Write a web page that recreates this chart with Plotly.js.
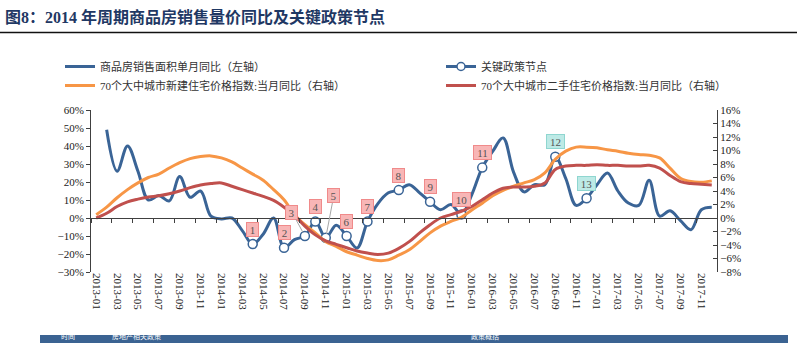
<!DOCTYPE html>
<html><head><meta charset="utf-8">
<script src="https://cdn.plot.ly/plotly-3.0.1.min.js"></script>
<style>html,body{margin:0;padding:0;background:#fff}#chart{width:797px;height:343px}</style>
</head><body><div id="chart"></div>
<script>
// ---- data ----
const months = ['2013-01','2013-02','2013-03','2013-04','2013-05','2013-06','2013-07','2013-08','2013-09','2013-10','2013-11','2013-12',
'2014-01','2014-02','2014-03','2014-04','2014-05','2014-06','2014-07','2014-08','2014-09','2014-10','2014-11','2014-12',
'2015-01','2015-02','2015-03','2015-04','2015-05','2015-06','2015-07','2015-08','2015-09','2015-10','2015-11','2015-12',
'2016-01','2016-02','2016-03','2016-04','2016-05','2016-06','2016-07','2016-08','2016-09','2016-10','2016-11','2016-12',
'2017-01','2017-02','2017-03','2017-04','2017-05','2017-06','2017-07','2017-08','2017-09','2017-10','2017-11','2017-12'];
// 商品房销售面积单月同比 (%), left axis
const salesAreaYoY = [null,49,26,40,26,10,12.5,9.5,23,11.5,15,1,
-0.5,0,-7,-14.5,-9,0,-16.5,-12,-10,-2,-11,-4,
-10,-16.7,-2,8,14,15.5,18.5,14,9,4.6,7.5,2,
13,28,37,44.5,25.5,14.5,18.5,18.5,34,22,7,11,
18.5,25,15,8.3,7,21,1,4,-1.5,-6.5,4.6,6];
// 70个大中城市新建住宅价格指数:当月同比 (%), right axis
const newHomeYoY = [0.5,1.6,3,4.2,5.2,6,6.5,7.4,8.2,8.8,9.1,9.2,
8.9,8.3,7.4,6.5,5.6,4.2,2.7,0.5,-1,-2.2,-3.5,-4.2,
-5,-5.5,-6,-6.3,-6.2,-5.5,-4.7,-3.5,-2.2,-1.2,-0.5,0.1,
1.2,2.2,3.3,4.1,4.7,5.2,5.7,6.7,8.7,9.9,10.5,10.5,
10.4,10.1,9.9,9.6,9.4,9.3,8.9,7.4,5.9,5.4,5.3,5.5];
// 70个大中城市二手住宅价格指数:当月同比 (%), right axis
const secondHomeYoY = [0,0.7,1.7,2.4,2.8,3.1,3.3,3.6,4,4.5,4.9,5.1,
5.2,4.7,4.2,3.7,3.2,2.6,1.6,0.4,-1.2,-2.5,-3.4,-3.9,
-4.4,-4.9,-5.2,-5.4,-5.2,-4.5,-3.5,-2.2,-1,0,0.5,1,
1.7,2.7,3.7,4.4,4.6,4.6,4.7,5.2,7.2,7.7,7.8,7.8,
7.9,7.8,7.8,7.7,7.7,7.8,7.4,6.3,5.4,5.1,5,4.9];
// 关键政策节点
const nodeLabels = ['1','2','3','4','5','6','7','8','9','10','11','12','13'];
const nodeMonths = ['2014-04','2014-07','2014-09','2014-10','2014-11','2015-01','2015-03','2015-06','2015-09','2015-12','2016-02','2016-09','2016-12'];
const nodeValues = nodeMonths.map(m => salesAreaYoY[months.indexOf(m)]);
// 表头
const tableHeader = ['时间', '房地产相关政策', '政策概括'];

// ---- styling ----
const BLUE = '#3A6496', ORANGE = '#F79646', RED = '#C0504D', AX = '#404040';
const serif = '"Liberation Serif", "Noto Sans CJK SC", serif';
const L = 91, R = 80, T = 110, B = 71, W = 797, H = 343;
const PW = W - L - R, PH = H - T - B;
const px = x => (x - L) / PW;
const py = y => (H - B - y) / PH;

const traces = [
  {x: months, y: salesAreaYoY, name: '商品房销售面积单月同比（左轴）', mode: 'lines', legend: 'legend',
   line: {color: BLUE, width: 3, shape: 'spline', smoothing: 1}, xaxis: 'x', yaxis: 'y', hoverinfo: 'skip'},
  {x: months, y: newHomeYoY, name: '70个大中城市新建住宅价格指数:当月同比（右轴）', mode: 'lines', legend: 'legend',
   line: {color: ORANGE, width: 3, shape: 'spline', smoothing: 1}, xaxis: 'x', yaxis: 'y2', hoverinfo: 'skip'},
  {x: nodeMonths, y: nodeMonths.map(() => null), name: '关键政策节点', mode: 'lines+markers', legend: 'legend2',
   line: {color: BLUE, width: 3}, marker: {symbol: 'circle', size: 8, color: '#fff', line: {color: BLUE, width: 1.5}},
   xaxis: 'x', yaxis: 'y', hoverinfo: 'skip'},
  {x: months, y: secondHomeYoY, name: '70个大中城市二手住宅价格指数:当月同比（右轴）', mode: 'lines', legend: 'legend2',
   line: {color: RED, width: 3, shape: 'spline', smoothing: 1}, xaxis: 'x', yaxis: 'y2', hoverinfo: 'skip'},
  {x: nodeMonths, y: nodeValues, mode: 'markers', showlegend: false,
   marker: {symbol: 'circle', size: 9, color: '#fff', line: {color: BLUE, width: 1.5}}, xaxis: 'x', yaxis: 'y', hoverinfo: 'skip'},
  {x: months, y: months.map(() => null), mode: 'lines', showlegend: false, xaxis: 'x2', yaxis: 'y', hoverinfo: 'skip'}
];

const PINK = {bg: '#F8B6B6', border: '#F08A8A'};
const CYAN = {bg: '#BDEAE6', border: '#8FD6D0'};
const leader = {'3': {ax: -13, ay: -24}, '5': {ax: 8, ay: -42}};
const annotations = nodeLabels.map((t, k) => {
  const c = k >= 11 ? CYAN : PINK;
  const a = {x: nodeMonths[k], y: nodeValues[k], xref: 'x', yref: 'y', text: t,
    bgcolor: c.bg, bordercolor: c.border, borderwidth: 1, borderpad: 1,
    font: {family: serif, size: 11, color: '#555'}, height: 11, width: t.length > 1 ? 15 : 9};
  if (leader[t]) {
    Object.assign(a, {showarrow: true, ax: leader[t].ax, ay: leader[t].ay, axref: 'pixel', ayref: 'pixel',
      arrowhead: 0, arrowwidth: 1, arrowcolor: '#A6A6A6', standoff: 4});
  } else {
    Object.assign(a, {showarrow: false, yshift: 15});
  }
  return a;
});
// bottom table header band (partly visible)
[[tableHeader[0], 59], [tableHeader[1], 110], [tableHeader[2], 469]].forEach(([t, x]) => {
  annotations.push({x: px(x), y: py(342.5), xref: 'paper', yref: 'paper', xanchor: 'left', yanchor: 'bottom',
    text: t, showarrow: false, font: {family: '"Noto Sans CJK SC"', size: 7, color: '#fff'}});
});

const axisCommon = {showgrid: false, zeroline: false, fixedrange: true};
const legendCommon = {orientation: 'v', xref: 'container', yref: 'container', xanchor: 'left',
  y: 1 - 52 / H, yanchor: 'top', itemwidth: 30, tracegroupgap: 0,
  font: {family: serif, size: 11, color: '#333'}, bgcolor: 'rgba(0,0,0,0)'};
const layout = {
  width: W, height: H,
  margin: {l: L, r: R, t: T, b: B, pad: 0, autoexpand: false},
  paper_bgcolor: '#fff', plot_bgcolor: 'rgba(0,0,0,0)',
  font: {family: serif, size: 11, color: '#222'},
  title: {text: '<b>图8：2014 年周期商品房销售量价同比及关键政策节点</b>',
    font: {family: serif, size: 16, color: '#1F3864'},
    x: 5 / W, xanchor: 'left', xref: 'container', y: 1 - 17 / H, yanchor: 'middle', yref: 'container'},
  showlegend: true,
  legend: Object.assign({x: 60 / W}, legendCommon),
  legend2: Object.assign({x: 441 / W}, legendCommon),
  xaxis: Object.assign({type: 'category', categoryorder: 'array', categoryarray: months, range: [-0.5, 59.5],
    tickmode: 'linear', tick0: 0, dtick: 2, tickangle: 90, showline: false, ticks: '',
    tickfont: {family: serif, size: 11, color: '#222'}}, axisCommon),
  xaxis2: Object.assign({type: 'category', categoryorder: 'array', categoryarray: months, range: [-0.5, 59.5],
    overlaying: 'x', anchor: 'free', position: 1 / 3, side: 'bottom', showline: true, linecolor: AX, linewidth: 1,
    ticks: 'outside', ticklen: 4, tickcolor: AX, tickson: 'boundaries', tickmode: 'linear', tick0: 0, dtick: 2,
    showticklabels: false}, axisCommon),
  yaxis: Object.assign({range: [-30, 60], tickmode: 'linear', tick0: 0, dtick: 10, ticksuffix: '%',
    ticks: 'outside', ticklen: 4, tickcolor: AX, showline: true, linecolor: AX, linewidth: 1,
    tickfont: {family: serif, size: 11, color: '#222'}}, axisCommon),
  yaxis2: Object.assign({range: [-8, 16], overlaying: 'y', side: 'right', tickmode: 'linear', tick0: 0, dtick: 2,
    ticksuffix: '%', ticks: 'inside', ticklen: 4, tickcolor: AX, showline: true, linecolor: AX, linewidth: 1,
    tickfont: {family: serif, size: 11, color: '#222'}}, axisCommon),
  shapes: [
    {type: 'line', xref: 'paper', yref: 'paper', x0: px(0), x1: px(W), y0: py(32.5), y1: py(32.5),
     line: {color: '#111', width: 1.5}},
    {type: 'rect', xref: 'paper', yref: 'paper', x0: px(40), x1: px(788), y0: py(335), y1: py(360),
     fillcolor: '#3B6392', line: {width: 0}, layer: 'above'}
  ],
  annotations: annotations
};
Plotly.newPlot('chart', traces, layout, {staticPlot: true, displayModeBar: false});
</script>
</body></html>
